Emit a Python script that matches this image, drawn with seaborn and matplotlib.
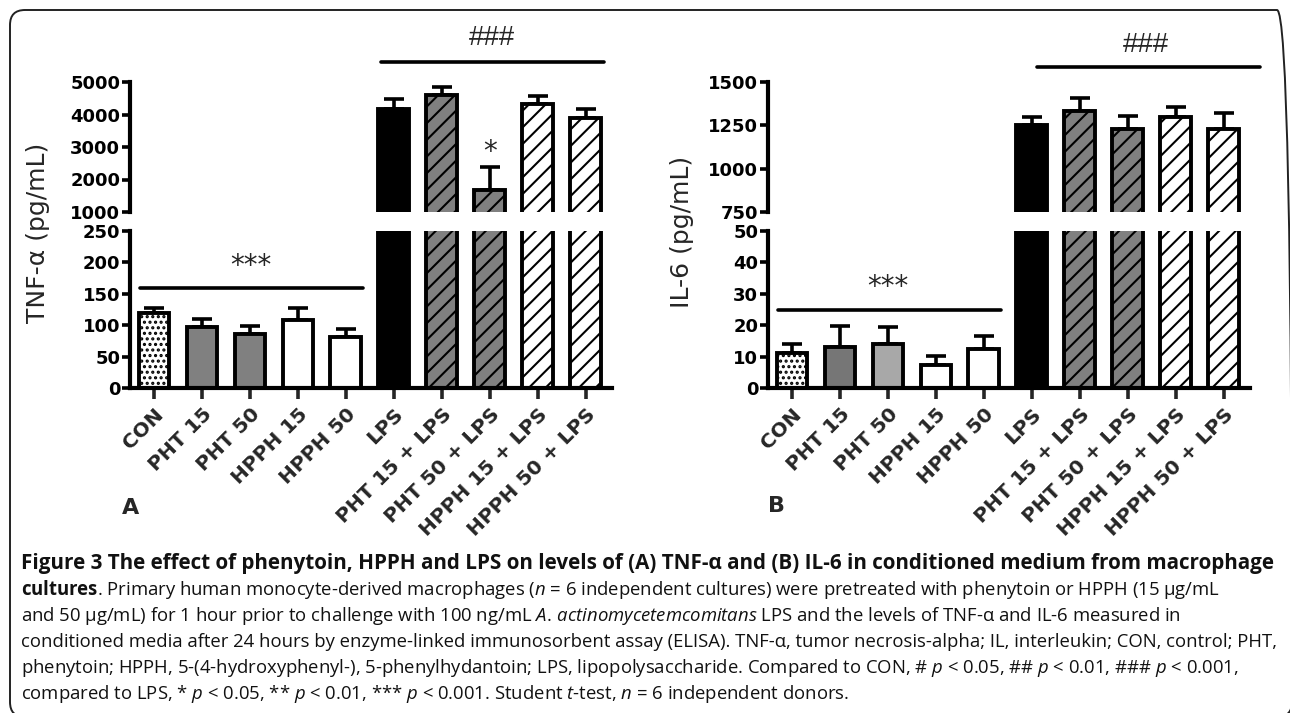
import numpy as np
import pandas as pd
import seaborn as sns
import matplotlib.pyplot as plt
import matplotlib.transforms as mtransforms
from matplotlib.patches import FancyBboxPatch
from matplotlib.lines import Line2D

# Data
groups = ['CON', 'PHT 15', 'PHT 50', 'HPPH 15', 'HPPH 50', 'LPS',
          'PHT 15 + LPS', 'PHT 50 + LPS', 'HPPH 15 + LPS', 'HPPH 50 + LPS']

tnf_mean = [120, 97, 86, 108, 82, 4180, 4590, 1680, 4310, 3890]
tnf_err = [8, 13, 13, 20, 12, 300, 260, 710, 260, 270]

il6_mean = [11.2, 13.0, 14.1, 7.4, 12.3, 1252, 1334, 1229, 1296, 1229]
il6_err = [2.8, 6.9, 5.2, 2.9, 4.2, 44, 73, 74, 61, 95]

colors_a = ['white', '#808080', '#808080', 'white', 'white',
            'black', '#808080', '#808080', 'white', 'white']
colors_b = ['white', '#767676', '#a8a8a8', 'white', 'white',
            'black', '#808080', '#808080', 'white', 'white']
hatches = ['...', '', '', '', '', '', '//', '//', '//', '//']

tnf_top_ticks = [1000, 2000, 3000, 4000, 5000]
tnf_low_ticks = [0, 50, 100, 150, 200, 250]
il6_top_ticks = [750, 1000, 1250, 1500]
il6_low_ticks = [0, 10, 20, 30, 40, 50]

caption = [
    "Figure 3 The effect of phenytoin, HPPH and LPS on levels of (A) TNF-α and (B) IL-6 in conditioned medium from macrophage",
    r"$\mathbf{cultures}$. Primary human monocyte-derived macrophages ($n$ = 6 independent cultures) were pretreated with phenytoin or HPPH (15 µg/mL",
    r"and 50 µg/mL) for 1 hour prior to challenge with 100 ng/mL $\mathit{A.\,actinomycetemcomitans}$ LPS and the levels of TNF-α and IL-6 measured in",
    "conditioned media after 24 hours by enzyme-linked immunosorbent assay (ELISA). TNF-α, tumor necrosis-alpha; IL, interleukin; CON, control; PHT,",
    r"phenytoin; HPPH, 5-(4-hydroxyphenyl-), 5-phenylhydantoin; LPS, lipopolysaccharide. Compared to CON, # $p$ < 0.05, ## $p$ < 0.01, ### $p$ < 0.001,",
    r"compared to LPS, * $p$ < 0.05, ** $p$ < 0.01, *** $p$ < 0.001. Student $t$-test, $n$ = 6 independent donors.",
]

sns.set_style('ticks')
plt.rcParams['font.family'] = ['DejaVu Sans']
plt.rcParams['hatch.linewidth'] = 1.5
plt.rcParams['mathtext.fontset'] = 'custom'
plt.rcParams['mathtext.rm'] = 'Open Sans'
plt.rcParams['mathtext.it'] = 'Open Sans:italic'
plt.rcParams['mathtext.bf'] = 'Open Sans:bold'

W, H = 1290, 713
fig = plt.figure(figsize=(W / 100, H / 100), dpi=100)
fig.patch.set_facecolor('white')


def px_axes(x0, x1, y0, y1):
    return fig.add_axes([x0 / W, 1 - y1 / H, (x1 - x0) / W, (y1 - y0) / H])


def draw_panel(x0, means, errs, colors, top_lim, top_ticks, low_lim, low_ticks):
    ax_top = px_axes(x0, x0 + 482, 82, 212)
    ax_low = px_axes(x0, x0 + 482, 231, 388)
    df = pd.DataFrame({'group': groups, 'value': means})
    for ax in (ax_top, ax_low):
        sns.barplot(data=df, x='group', y='value', hue='group', order=groups,
                    hue_order=groups, palette=dict(zip(groups, colors)),
                    legend=False, errorbar=None, width=0.64, saturation=1,
                    edgecolor='black', linewidth=2.8, ax=ax)
        bars = sorted(ax.patches, key=lambda p: p.get_x())
        for p, h in zip(bars, hatches):
            p.set_hatch(h)
        ax.errorbar(range(len(groups)), means, yerr=[np.zeros(len(groups)), errs],
                    fmt='none', ecolor='black', elinewidth=2.6, capsize=7,
                    capthick=2.6, zorder=0.9)
        ax.set_xlim(-0.5, 9.55)
        ax.set_xlabel('')
        ax.set_ylabel('')
        for s in ['top', 'right']:
            ax.spines[s].set_visible(False)
        for s in ['left', 'bottom']:
            ax.spines[s].set_linewidth(3)
            ax.spines[s].set_color('black')
        ax.tick_params(axis='y', direction='out', length=6, width=2.6, pad=1,
                       labelsize=13, colors='black')
    ax_top.set_ylim(*top_lim)
    ax_top.set_yticks(top_ticks)
    ax_top.set_yticklabels([str(t) for t in top_ticks], fontweight='bold')
    ax_top.spines['bottom'].set_visible(False)
    ax_top.tick_params(axis='x', bottom=False, labelbottom=False)
    ax_low.set_ylim(*low_lim)
    ax_low.set_yticks(low_ticks)
    ax_low.set_yticklabels([str(t) for t in low_ticks], fontweight='bold')
    ax_low.set_xticks(range(len(groups)))
    ax_low.set_xticklabels(groups, rotation=45, ha='right', rotation_mode='anchor',
                           fontweight='bold', fontsize=14.5)
    ax_low.tick_params(axis='x', direction='out', length=8, width=2.6, pad=4)
    return ax_top, ax_low


a_top, a_low = draw_panel(130, tnf_mean, tnf_err, colors_a, (1000, 5000),
                          tnf_top_ticks, (0, 250), tnf_low_ticks)
b_top, b_low = draw_panel(768, il6_mean, il6_err, colors_b, (750, 1500),
                          il6_top_ticks, (0, 50), il6_low_ticks)


def fy(y):
    return 1 - y / H


# significance lines and marks
for ax, x1, x2, ly, tx, ty in [(a_low, 4.74, 9.38, 62, 7.04, 45),
                               (b_low, 5.1, 9.75, 67, 7.38, 52)]:
    tr = mtransforms.blended_transform_factory(ax.transData, fig.transFigure)
    fig.add_artist(Line2D([x1, x2], [fy(ly), fy(ly)], color='black', lw=2.6,
                          transform=tr))
    fig.text(tx, fy(ty), '###', transform=tr, ha='center', va='baseline',
             family='Liberation Sans', fontsize=20)

a_low.plot([-0.29, 4.35], [160, 160], color='black', lw=2.6, clip_on=False)
a_low.text(2.02, 182, '***', ha='center', va='baseline', fontsize=20)
b_low.plot([-0.29, 4.35], [25, 25], color='black', lw=2.6, clip_on=False)
b_low.text(2.0, 29.5, '***', ha='center', va='baseline', fontsize=20)
a_top.text(7, 2600, '*', ha='center', va='baseline', fontsize=20)

# axis titles and panel letters
fig.text(38 / W, fy(233), 'TNF-α (pg/mL)', rotation=90, ha='center', va='center',
         fontsize=18)
fig.text(682 / W, fy(232), 'IL-6 (pg/mL)', rotation=90, ha='center', va='center',
         fontsize=18)
fig.text(131 / W, fy(508), 'A', ha='center', va='center', fontsize=16,
         fontweight='bold')
fig.text(776 / W, fy(506), 'B', ha='center', va='center', fontsize=16,
         fontweight='bold')

# caption
baselines = [569, 595, 621, 647, 673, 699]
cap_texts = []
for i, (line, yb) in enumerate(zip(caption, baselines)):
    t = fig.text(21 / W, fy(yb), line, ha='left', va='baseline',
                 family='Open Sans', fontsize=12,
                 fontweight='bold' if i == 0 else 'normal', color='#111111')
    cap_texts.append(t)

fig.canvas.draw()
r = fig.canvas.get_renderer()
w_title = cap_texts[0].get_window_extent(r).width
w_body = cap_texts[3].get_window_extent(r).width
cap_texts[0].set_fontsize(12 * 1254 / w_title)
for t in cap_texts[1:]:
    t.set_fontsize(12 * 1252 / w_body)

# rounded frame
px = mtransforms.Affine2D().scale(1 / W, 1 / H) + fig.transFigure
frame = FancyBboxPatch((10, -4), 1282, H - 10 + 4,
                       boxstyle='round,pad=0,rounding_size=15',
                       facecolor='none', edgecolor='#222222', lw=1.4,
                       transform=px)
fig.add_artist(frame)

fig.savefig('out.png', dpi=100, facecolor='white')
